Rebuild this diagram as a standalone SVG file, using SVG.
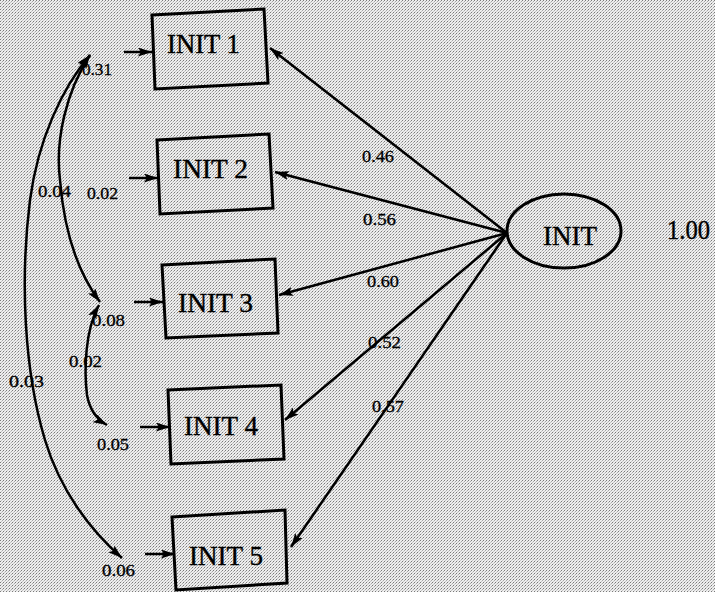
<svg xmlns="http://www.w3.org/2000/svg" width="715" height="592" viewBox="0 0 715 592">
<defs>
<pattern id="bg" width="3" height="3" patternUnits="userSpaceOnUse">
<rect width="3" height="3" fill="#eeeeee"/>
<rect x="0" y="0" width="1" height="1" fill="#7a7a7a"/>
<rect x="2" y="1" width="1" height="1" fill="#a8a8a8"/>
<rect x="1" y="2" width="1" height="1" fill="#c4c4c4"/>
</pattern>
<marker id="ah" viewBox="0 0 14 9" refX="14" refY="4.5" markerWidth="14" markerHeight="9" markerUnits="userSpaceOnUse" orient="auto-start-reverse">
<path d="M0,0 L14,4.5 L0,9 L3,4.5 Z" fill="#000"/>
</marker>
<style>
.box{fill:none;stroke:#000;stroke-width:3}
.lbl{font-family:"Liberation Serif","Times New Roman",serif;font-size:27px;fill:#000;stroke:#000;stroke-width:0.4}
.num{font-family:"Liberation Serif","Times New Roman",serif;font-size:17px;fill:#000;stroke:#000;stroke-width:0.3}
.ln{fill:none;stroke:#000;stroke-width:2.5}
</style>
</defs>
<rect width="715" height="592" fill="url(#bg)"/>
<g id="connectors">
<line class="ln" x1="507" y1="233" x2="270" y2="48" marker-end="url(#ah)"/>
<line class="ln" x1="507" y1="233" x2="275" y2="172" marker-end="url(#ah)"/>
<line class="ln" x1="507" y1="233" x2="279" y2="295" marker-end="url(#ah)"/>
<line class="ln" x1="507" y1="233" x2="285" y2="420" marker-end="url(#ah)"/>
<line class="ln" x1="507" y1="233" x2="291" y2="547" marker-end="url(#ah)"/>
<line class="ln" x1="124" y1="52" x2="152" y2="52" marker-end="url(#ah)"/>
<line class="ln" x1="129" y1="178" x2="158" y2="178" marker-end="url(#ah)"/>
<line class="ln" x1="134" y1="302" x2="163" y2="302" marker-end="url(#ah)"/>
<line class="ln" x1="140" y1="427" x2="170" y2="427" marker-end="url(#ah)"/>
<line class="ln" x1="145" y1="554" x2="175" y2="554" marker-end="url(#ah)"/>
<path class="ln" d="M90,55 C62,88 38,140 30,200 C20,280 24,370 45,440 C60,490 90,530 122,558" marker-start="url(#ah)" marker-end="url(#ah)"/>
<path class="ln" d="M90,55 C66,92 55,140 60,180 C64,230 76,270 100,302" marker-start="url(#ah)" marker-end="url(#ah)"/>
<path class="ln" d="M99,305 C85,330 84,370 87,395 C90,412 98,420 107,425" marker-start="url(#ah)" marker-end="url(#ah)"/>
</g>
<g id="init1">
<polygon class="box" points="152,15 264,9 268,83 155,89"/>
<text class="lbl" x="167" y="53" textLength="73" lengthAdjust="spacingAndGlyphs">INIT 1</text>
</g>
<g id="init2">
<polygon class="box" points="157,140 269,134 273,208 160,214"/>
<text class="lbl" x="173" y="178" textLength="75" lengthAdjust="spacingAndGlyphs">INIT 2</text>
</g>
<g id="init3">
<polygon class="box" points="162,265 275,259 278,333 166,338"/>
<text class="lbl" x="178" y="312" textLength="75" lengthAdjust="spacingAndGlyphs">INIT 3</text>
</g>
<g id="init4">
<polygon class="box" points="168,390 281,385 284,459 171,464"/>
<text class="lbl" x="184" y="435" textLength="74" lengthAdjust="spacingAndGlyphs">INIT 4</text>
</g>
<g id="init5">
<polygon class="box" points="172,517 285,510 287,583 176,590"/>
<text class="lbl" x="189" y="565" textLength="74" lengthAdjust="spacingAndGlyphs">INIT 5</text>
</g>
<g id="init">
<ellipse cx="564" cy="231" rx="57" ry="37" fill="none" stroke="#000" stroke-width="3"/>
<text class="lbl" x="543" y="245" textLength="54" lengthAdjust="spacingAndGlyphs">INIT</text>
<text class="lbl" x="667" y="239" font-size="24" textLength="43" lengthAdjust="spacingAndGlyphs">1.00</text>
</g>
<g id="labels">
<text class="num" x="362" y="162" textLength="32" lengthAdjust="spacingAndGlyphs">0.46</text>
<text class="num" x="363" y="225" textLength="33" lengthAdjust="spacingAndGlyphs">0.56</text>
<text class="num" x="367" y="287" textLength="32" lengthAdjust="spacingAndGlyphs">0.60</text>
<text class="num" x="368" y="348" textLength="33" lengthAdjust="spacingAndGlyphs">0.52</text>
<text class="num" x="372" y="412" textLength="32" lengthAdjust="spacingAndGlyphs">0.57</text>
<text class="num" x="82" y="75" textLength="30" lengthAdjust="spacingAndGlyphs">0.31</text>
<text class="num" x="38" y="197" textLength="33" lengthAdjust="spacingAndGlyphs">0.04</text>
<text class="num" x="87" y="199" textLength="31" lengthAdjust="spacingAndGlyphs">0.02</text>
<text class="num" x="92" y="326" textLength="33" lengthAdjust="spacingAndGlyphs">0.08</text>
<text class="num" x="69" y="367" textLength="33" lengthAdjust="spacingAndGlyphs">0.02</text>
<text class="num" x="9" y="387" textLength="35" lengthAdjust="spacingAndGlyphs">0.03</text>
<text class="num" x="97" y="450" textLength="32" lengthAdjust="spacingAndGlyphs">0.05</text>
<text class="num" x="102" y="576" textLength="33" lengthAdjust="spacingAndGlyphs">0.06</text>
</g>
</svg>
